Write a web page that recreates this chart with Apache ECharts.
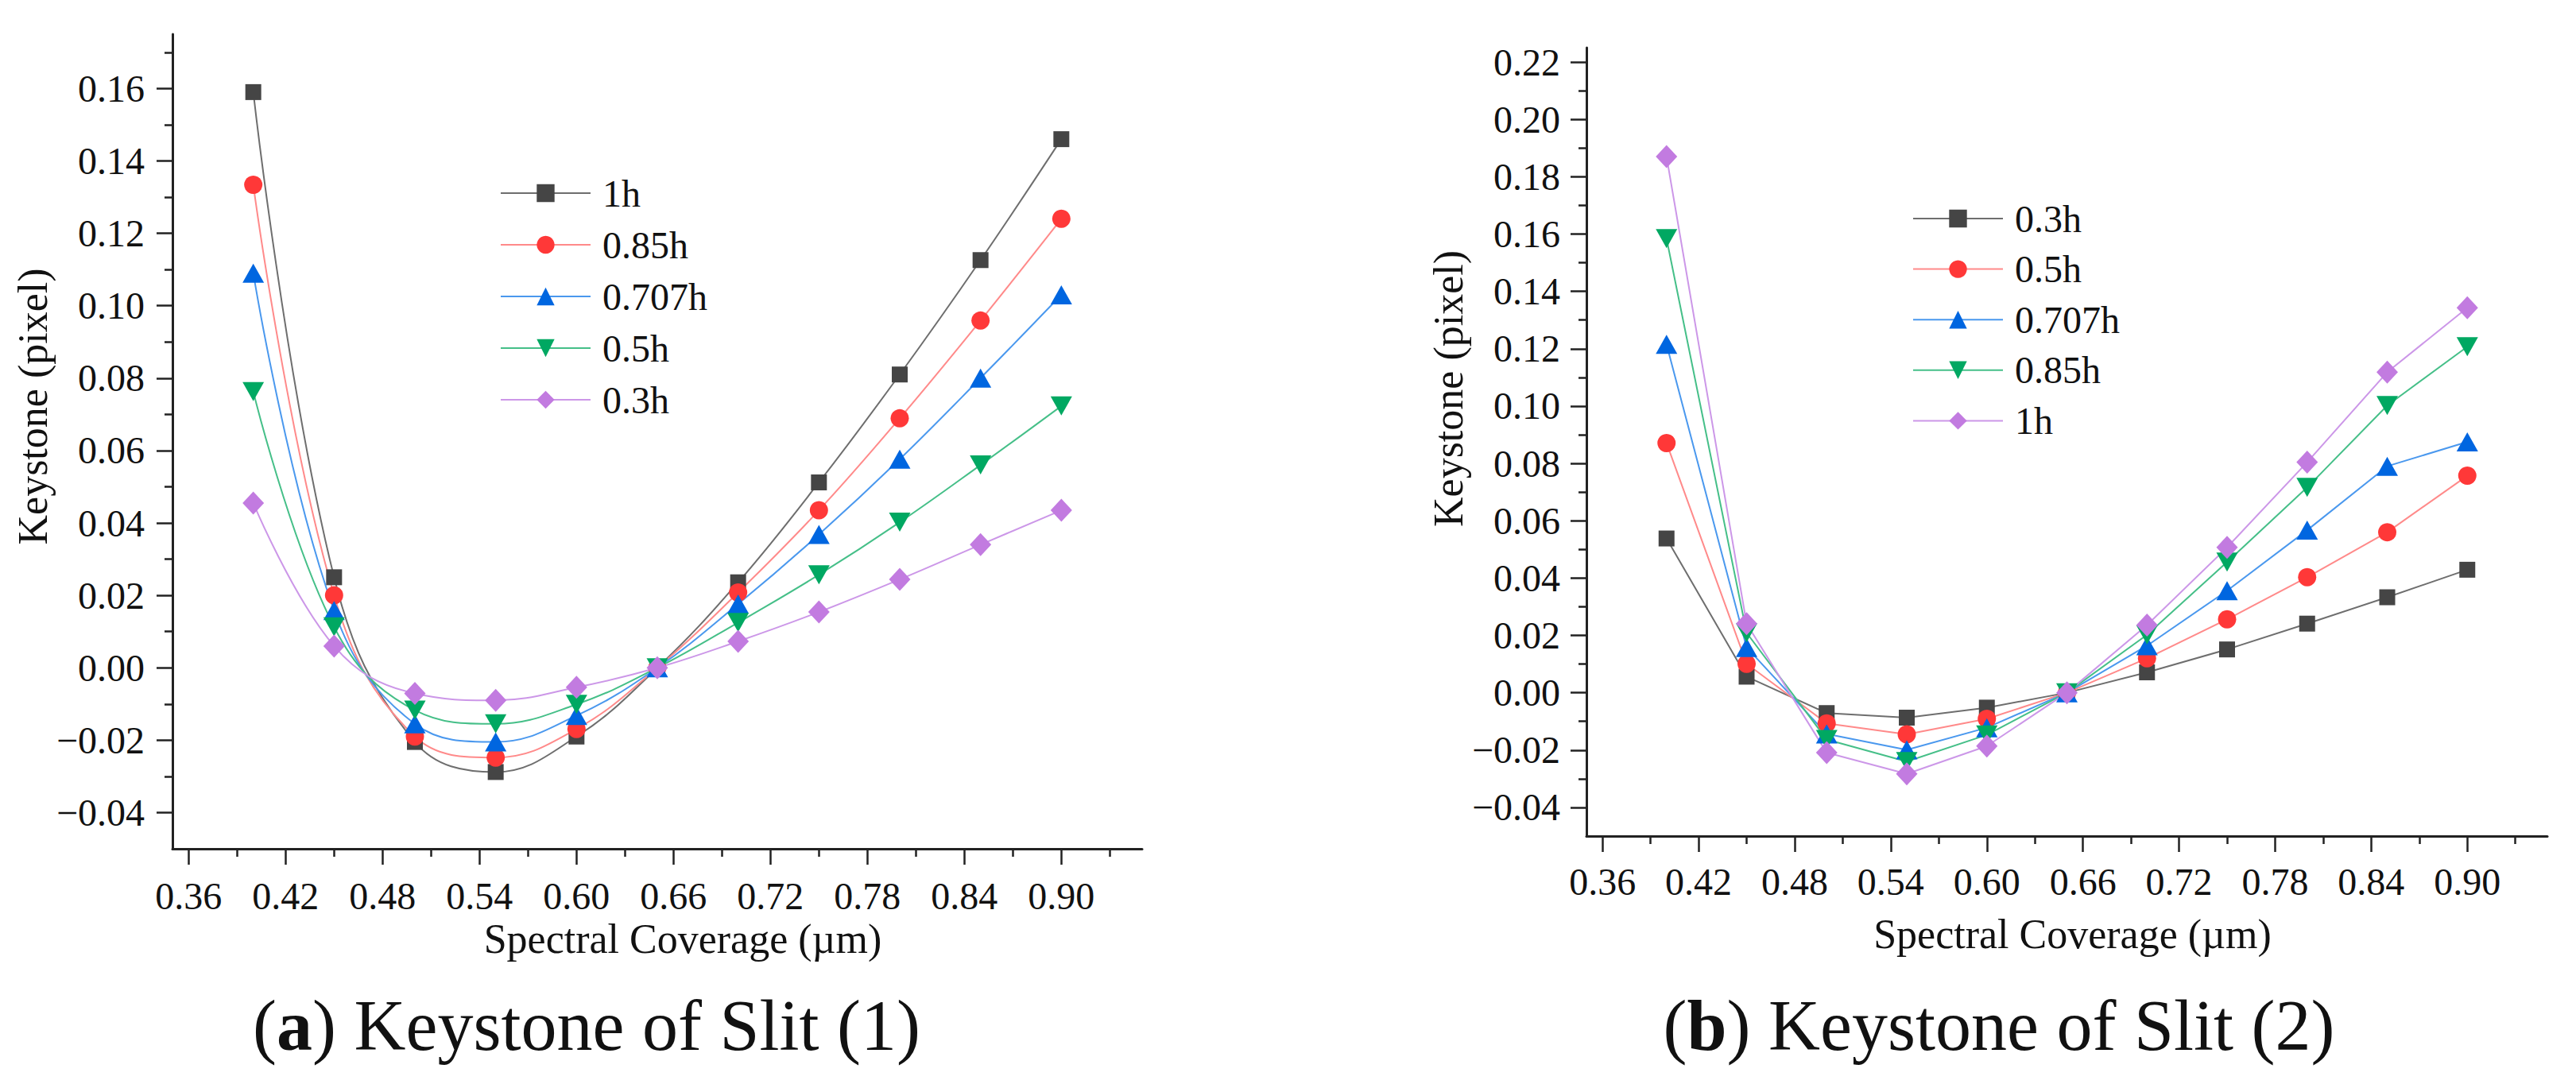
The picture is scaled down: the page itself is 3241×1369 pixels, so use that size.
<!DOCTYPE html>
<html>
<head>
<meta charset="utf-8">
<script src="https://cdn.jsdelivr.net/npm/echarts@6/dist/echarts.min.js"></script>
<style>
html,body{margin:0;padding:0;background:#ffffff;}
#chart{width:3241px;height:1369px;}
</style>
</head>
<body>
<div id="chart"></div>
<script>
// ---------- data ----------
const xValues = [0.40, 0.45, 0.50, 0.55, 0.60, 0.65, 0.70, 0.75, 0.80, 0.85, 0.90];

// Panel (a): Keystone of Slit (1)
const aNames = ['1h', '0.85h', '0.707h', '0.5h', '0.3h'];
const a_1h    = [0.1590, 0.0250, -0.0205, -0.0288, -0.0190, 0, 0.0236, 0.0512, 0.0810, 0.1126, 0.1460];
const a_085h  = [0.1334, 0.0200, -0.0190, -0.0248, -0.0169, 0, 0.0208, 0.0435, 0.0689, 0.0959, 0.1240];
const a_0707h = [0.1090, 0.0158, -0.0155, -0.0205, -0.0132, 0, 0.0176, 0.0368, 0.0576, 0.0800, 0.1030];
const a_05h   = [0.0763, 0.0113, -0.0117, -0.0155, -0.0101, 0, 0.0125, 0.0257, 0.0402, 0.0560, 0.0723];
const a_03h   = [0.0455, 0.0060, -0.0071, -0.0090, -0.0054, 0, 0.0073, 0.0154, 0.0244, 0.0340, 0.0435];

// Panel (b): Keystone of Slit (2)
const bNames = ['0.3h', '0.5h', '0.707h', '0.85h', '1h'];
const b_03h   = [0.0538, 0.0056, -0.0071, -0.0087, -0.0052, 0, 0.0071, 0.0151, 0.0241, 0.0333, 0.0429];
const b_05h   = [0.0871, 0.0101, -0.0107, -0.0145, -0.0091, 0, 0.0120, 0.0256, 0.0403, 0.0560, 0.0757];
const b_0707h = [0.1215, 0.0158, -0.0144, -0.0199, -0.0122, 0, 0.0164, 0.0356, 0.0567, 0.0790, 0.0875];
const b_085h  = [0.1584, 0.0209, -0.0163, -0.0240, -0.0147, 0, 0.0202, 0.0456, 0.0716, 0.1002, 0.1207];
const b_1h    = [0.1870, 0.0241, -0.0209, -0.0283, -0.0186, 0, 0.0236, 0.0507, 0.0804, 0.1118, 0.1343];

// tick values
const xTicks      = [0.36, 0.42, 0.48, 0.54, 0.60, 0.66, 0.72, 0.78, 0.84, 0.90];
const xMinorTicks = [0.39, 0.45, 0.51, 0.57, 0.63, 0.69, 0.75, 0.81, 0.87, 0.93];
const yTicksA      = [-0.04, -0.02, 0.00, 0.02, 0.04, 0.06, 0.08, 0.10, 0.12, 0.14, 0.16];
const yMinorTicksA = [-0.03, -0.01, 0.01, 0.03, 0.05, 0.07, 0.09, 0.11, 0.13, 0.15, 0.17];
const yTicksB      = [-0.04, -0.02, 0.00, 0.02, 0.04, 0.06, 0.08, 0.10, 0.12, 0.14, 0.16, 0.18, 0.20, 0.22];
const yMinorTicksB = [-0.03, -0.01, 0.01, 0.03, 0.05, 0.07, 0.09, 0.11, 0.13, 0.15, 0.17, 0.19, 0.21];

// ---------- styles ----------
const FONT = "'Liberation Serif', 'Times New Roman', serif";
const AX = '#222222';
const styles = {
  gray:   {sym: '#454545', line: '#6e6e6e', symbol: 'rect', size: 20},
  red:    {sym: '#ff3838', line: '#ff8a8a', symbol: 'circle', size: 23},
  blue:   {sym: '#0066e0', line: '#4a98ee', symbol: 'triangle', size: [27, 24]},
  green:  {sym: '#00a862', line: '#45bf88', symbol: 'path://M0,0 L10,0 L5,9 Z', size: [27, 24]},
  purple: {sym: '#c27be0', line: '#cc97e8', symbol: 'diamond', size: [27, 29]}
};

function pairs(ys) { return xValues.map((x, i) => [x, ys[i]]); }
function mkSeries(prefix, name, ys, st, gi, smooth) {
  return {
    type: 'line',
    name: prefix + name,
    xAxisIndex: gi * 2,
    yAxisIndex: gi * 2,
    data: pairs(ys),
    smooth: smooth,
    symbol: st.symbol,
    symbolSize: st.size,
    lineStyle: {color: st.line, width: 2},
    itemStyle: {color: st.sym, borderWidth: 0},
    emphasis: {disabled: true},
    animation: false
  };
}
const fmt = v => v.toFixed(2).replace('-', '\u2212');

function xAxes(gi, nameGap, namePad) {
  return [{
    type: 'value', gridIndex: gi, min: 0.35, max: 0.95,
    axisLine: {show: true, onZero: false, lineStyle: {color: AX, width: 3}},
    axisTick: {show: true, length: 20, customValues: xTicks, lineStyle: {color: AX, width: 2.5}},
    axisLabel: {show: true, customValues: xTicks, formatter: v => v.toFixed(2), margin: gi === 0 ? 35 : 33,
                fontFamily: FONT, fontSize: 48, color: '#111'},
    splitLine: {show: false},
    name: 'Spectral Coverage (\u00b5m)', nameLocation: 'middle', nameGap: nameGap,
    nameTextStyle: {fontFamily: FONT, fontSize: 52, color: '#111', padding: [0, 0, 0, namePad]}
  }, {
    type: 'value', gridIndex: gi, min: 0.35, max: 0.95, position: 'bottom', offset: 0,
    axisLine: {show: false, onZero: false},
    axisTick: {show: true, length: 10, customValues: xMinorTicks, lineStyle: {color: AX, width: 2.5}},
    axisLabel: {show: false},
    splitLine: {show: false}
  }];
}
function yAxes(gi, max, ticks, minor, nameGap, namePad) {
  return [{
    type: 'value', gridIndex: gi, min: -0.05, max: max, position: 'left', offset: 0,
    axisLine: {show: true, onZero: false, lineStyle: {color: AX, width: 3}},
    axisTick: {show: true, length: 20, customValues: ticks, lineStyle: {color: AX, width: 2.5}},
    axisLabel: {show: true, customValues: ticks, formatter: fmt, margin: gi === 0 ? 35 : 33,
                fontFamily: FONT, fontSize: 48, color: '#111'},
    splitLine: {show: false},
    name: 'Keystone (pixel)', nameLocation: 'middle', nameGap: nameGap,
    nameTextStyle: {fontFamily: FONT, fontSize: 52, color: '#111', padding: [0, 0, 0, namePad]}
  }, {
    type: 'value', gridIndex: gi, min: -0.05, max: max, position: 'left', offset: 0,
    axisLine: {show: false, onZero: false},
    axisTick: {show: true, length: 10, customValues: minor, lineStyle: {color: AX, width: 2.5}},
    axisLabel: {show: false},
    splitLine: {show: false}
  }];
}

const seriesA = [
  mkSeries('a:', aNames[0], a_1h,    styles.gray,   0, 0.4),
  mkSeries('a:', aNames[1], a_085h,  styles.red,    0, 0.4),
  mkSeries('a:', aNames[2], a_0707h, styles.blue,   0, 0.4),
  mkSeries('a:', aNames[3], a_05h,   styles.green,  0, 0.4),
  mkSeries('a:', aNames[4], a_03h,   styles.purple, 0, 0.4)
];
const seriesB = [
  mkSeries('b:', bNames[0], b_03h,   styles.gray,   1, false),
  mkSeries('b:', bNames[1], b_05h,   styles.red,    1, false),
  mkSeries('b:', bNames[2], b_0707h, styles.blue,   1, false),
  mkSeries('b:', bNames[3], b_085h,  styles.green,  1, false),
  mkSeries('b:', bNames[4], b_1h,    styles.purple, 1, false)
];

const legendCommon = {
  orient: 'vertical', itemWidth: 113, itemHeight: 28, itemGap: 17,
  selectedMode: false,
  formatter: n => n.slice(2),
  textStyle: {fontFamily: FONT, fontSize: 48, color: '#111', padding: [0, 0, 0, 10]}
};

const chart = echarts.init(document.getElementById('chart'), null, {renderer: 'svg'});
chart.setOption({
  backgroundColor: '#ffffff',
  animation: false,
  textStyle: {fontFamily: FONT},
  grid: [
    {left: 217, top: 43, width: 1220, height: 1025, containLabel: false, outerBoundsMode: 'none'},
    {left: 1996, top: 60, width: 1209, height: 992, containLabel: false, outerBoundsMode: 'none'}
  ],
  xAxis: [...xAxes(0, 83, 64), ...xAxes(1, 97, 14)],
  yAxis: [...yAxes(0, 0.175, yTicksA, yMinorTicksA, 129, 88), ...yAxes(1, 0.225, yTicksB, yMinorTicksB, 133, 134)],
  legend: [
    Object.assign({}, legendCommon, {left: 624, top: 214, data: aNames.map(n => 'a:' + n)}),
    Object.assign({}, legendCommon, {left: 2401, top: 246, itemGap: 15.6, data: bNames.map(n => 'b:' + n)})
  ],
  series: [...seriesA, ...seriesB],
  graphic: [
    {type: 'text', x: 738, y: 1290, silent: true,
     style: {text: '{n|(}{bb|a}{n|) Keystone of Slit (1)}', align: 'center', verticalAlign: 'middle',
             rich: {n: {fontFamily: FONT, fontSize: 90, fill: '#111'}, bb: {fontFamily: FONT, fontSize: 90, fontWeight: 'bold', fill: '#111'}}}},
    {type: 'text', x: 2515, y: 1290, silent: true,
     style: {text: '{n|(}{bb|b}{n|) Keystone of Slit (2)}', align: 'center', verticalAlign: 'middle',
             rich: {n: {fontFamily: FONT, fontSize: 90, fill: '#111'}, bb: {fontFamily: FONT, fontSize: 90, fontWeight: 'bold', fill: '#111'}}}}
  ]
});
</script>
</body>
</html>
